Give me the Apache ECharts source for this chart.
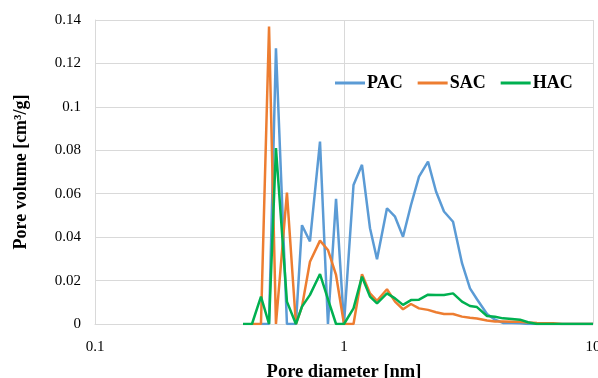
<!DOCTYPE html>
<html>
<head>
<meta charset="utf-8">
<script src="https://cdn.jsdelivr.net/npm/echarts@6/dist/echarts.min.js"></script>
<style>
html, body { margin: 0; padding: 0; background: #fff; }
#chart { width: 598px; height: 378px; }
</style>
</head>
<body>
<div id="chart"></div>
<script>
// pore diameters [nm]
var diameters = [0.393, 0.427, 0.464, 0.500, 0.533, 0.590, 0.641, 0.678, 0.730, 0.801, 0.862, 0.929, 1.000,
	1.092, 1.181, 1.272, 1.357, 1.488, 1.603, 1.726, 1.858, 2.001, 2.175, 2.342, 2.521, 2.741, 2.978,
	3.206, 3.420, 3.753, 4.041, 4.351, 4.729, 5.092, 5.483, 5.958, 6.415, 6.909, 7.508, 8.084, 8.707, 9.461, 10.0];

var pac = [null, null, 0, 0, 0.127, 0, 0, 0.0455, 0.038, 0.084, 0, 0.0576, 0,
	0.064, 0.0733, 0.0441, 0.0298, 0.0533, 0.0494, 0.0402, 0.0548, 0.0679, 0.0748, 0.061, 0.0518, 0.0471, 0.028,
	0.0164, 0.0114, 0.0046, 0.002, 0.0005, 0.0005, 0.0003, 0, 0, 0, 0, 0, 0, 0, 0, 0];

var sac = [null, 0, 0, 0.137, 0, 0.0605, 0, 0.008, 0.0287, 0.0384, 0.0341, 0.0226, 0,
	0, 0.0229, 0.0141, 0.0107, 0.016, 0.0103, 0.0068, 0.0092, 0.0072, 0.0065, 0.0054, 0.0046, 0.0046, 0.0034,
	0.0029, 0.0025, 0.0016, 0.0012, 0.0012, 0.001, 0.001, 0.0007, 0.0005, 0.0004, 0.0003, 0, 0, 0, 0, 0];

var hac = [0, 0, 0.0126, 0, 0.081, 0.0103, 0, 0.008, 0.0134, 0.023, 0.0115, 0, 0,
	0.0072, 0.0218, 0.0126, 0.0095, 0.0141, 0.0118, 0.0088, 0.011, 0.0112, 0.0135, 0.0133, 0.0134, 0.0141, 0.0103,
	0.0083, 0.0078, 0.0037, 0.0033, 0.0026, 0.0023, 0.002, 0.0008, 0, 0, 0, 0, 0, 0, 0, 0];

var seriesNames = ['PAC', 'SAC', 'HAC'];
var seriesColors = ['#5B9BD5', '#ED7D31', '#00B050'];

function pairs(values) {
	var out = [];
	for (var i = 0; i < diameters.length; i++) {
		if (values[i] !== null) out.push([diameters[i], values[i]]);
	}
	return out;
}

var font = '"Liberation Serif", "DejaVu Serif", serif';
var myChart = echarts.init(document.getElementById('chart'));

var option = {
	animation: false,
	backgroundColor: '#fff',
	grid: { left: 95, right: 5, top: 20, bottom: 54, outerBoundsMode: 'none', containLabel: false },
	legend: {
		data: seriesNames,
		icon: 'rect',
		left: 330,
		top: 69,
		itemWidth: 30,
		itemHeight: 3,
		itemGap: 15,
		textStyle: { fontFamily: font, fontWeight: 'bold', fontSize: 18, color: '#000', padding: [0, 0, 0, -3] }
	},
	xAxis: {
		type: 'log',
		logBase: 10,
		min: 0.1,
		max: 10,
		name: 'Pore diameter [nm]',
		nameLocation: 'middle',
		nameGap: 39,
		nameTextStyle: { fontFamily: font, fontWeight: 'bold', fontSize: 18.5, color: '#000' },
		axisLine: { show: true, lineStyle: { color: '#d9d9d9', width: 1 } },
		axisTick: { show: false },
		axisLabel: { fontFamily: font, fontSize: 15, color: '#000', margin: 16, formatter: function (v) { return String(v); } },
		splitLine: { show: true, lineStyle: { color: '#d9d9d9', width: 1 } },
		minorTick: { show: false }
	},
	yAxis: {
		type: 'value',
		min: 0,
		max: 0.14,
		interval: 0.02,
		name: 'Pore volume [cm³/g]',
		nameLocation: 'middle',
		nameRotate: 90,
		nameGap: 65,
		nameTextStyle: { fontFamily: font, fontWeight: 'bold', fontSize: 18, color: '#000' },
		axisLine: { show: true, lineStyle: { color: '#d9d9d9', width: 1 } },
		axisTick: { show: false },
		axisLabel: { fontFamily: font, fontSize: 15, color: '#000', margin: 14 },
		splitLine: { show: true, lineStyle: { color: '#d9d9d9', width: 1 } }
	},
	series: seriesNames.map(function (name, k) {
		return {
			name: name,
			type: 'line',
			symbol: 'none',
			connectNulls: false,
			data: pairs([pac, sac, hac][k]),
			color: seriesColors[k],
			lineStyle: { color: seriesColors[k], width: 2.5 }
		};
	})
};

myChart.setOption(option);
</script>
</body>
</html>
